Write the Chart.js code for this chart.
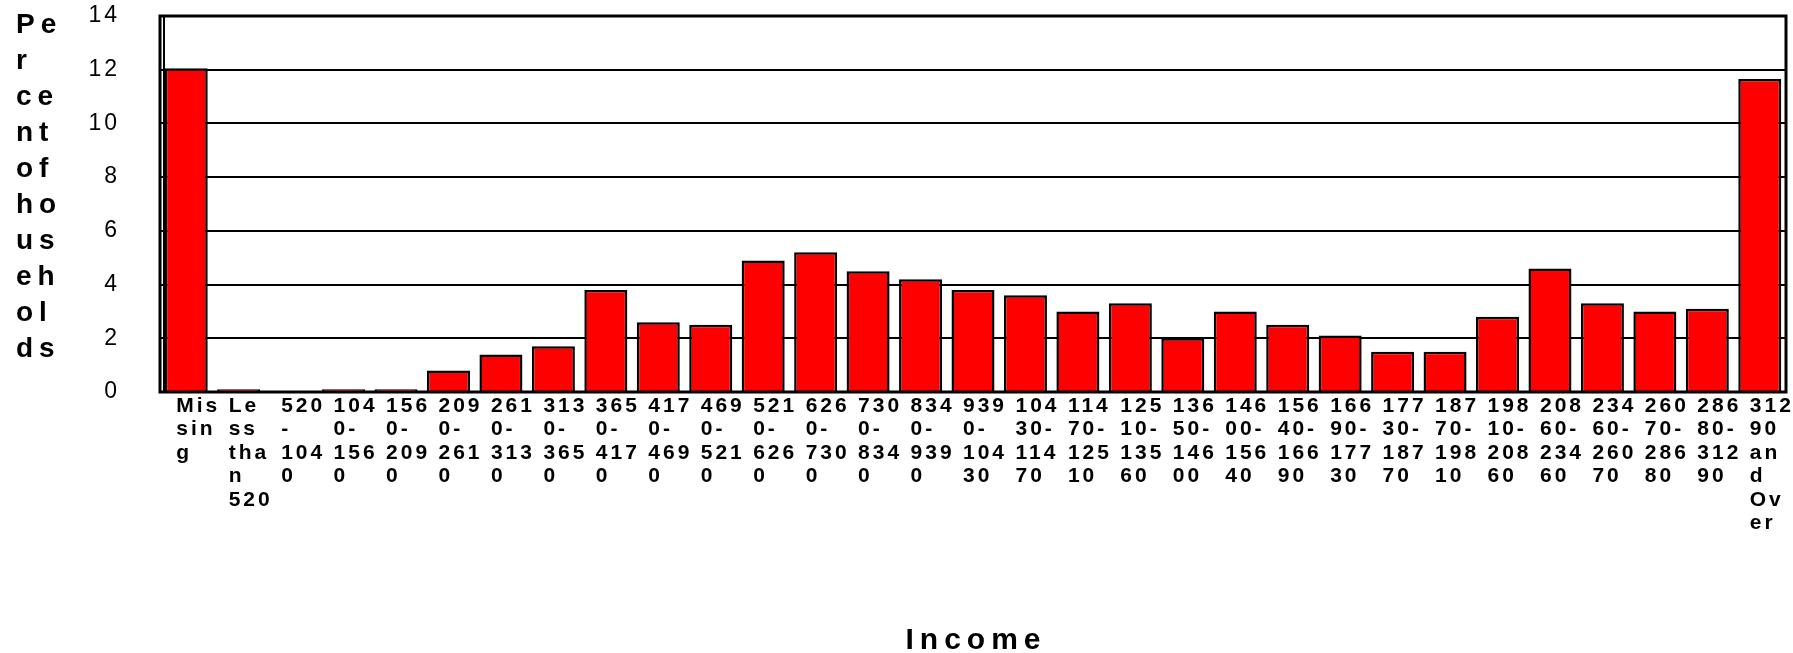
<!DOCTYPE html>
<html>
<head>
<meta charset="utf-8">
<script src="https://cdn.jsdelivr.net/npm/chart.js@4.4.0/dist/chart.umd.min.js"></script>
<style>
  html, body { margin: 0; padding: 0; background: #fff; }
</style>
</head>
<body>
<canvas id="chart" width="1793" height="653"></canvas>
<script>
// income bands, wrapped the same way the original chart wraps them
const categories = [
  ["Mis", "sin", "g"],
  ["Le", "ss", "tha", "n", "520"],
  ["520", "-", "104", "0"],
  ["104", "0-", "156", "0"],
  ["156", "0-", "209", "0"],
  ["209", "0-", "261", "0"],
  ["261", "0-", "313", "0"],
  ["313", "0-", "365", "0"],
  ["365", "0-", "417", "0"],
  ["417", "0-", "469", "0"],
  ["469", "0-", "521", "0"],
  ["521", "0-", "626", "0"],
  ["626", "0-", "730", "0"],
  ["730", "0-", "834", "0"],
  ["834", "0-", "939", "0"],
  ["939", "0-", "104", "30"],
  ["104", "30-", "114", "70"],
  ["114", "70-", "125", "10"],
  ["125", "10-", "135", "60"],
  ["136", "50-", "146", "00"],
  ["146", "00-", "156", "40"],
  ["156", "40-", "166", "90"],
  ["166", "90-", "177", "30"],
  ["177", "30-", "187", "70"],
  ["187", "70-", "198", "10"],
  ["198", "10-", "208", "60"],
  ["208", "60-", "234", "60"],
  ["234", "60-", "260", "70"],
  ["260", "70-", "286", "80"],
  ["286", "80-", "312", "90"],
  ["312", "90", "an", "d", "Ov", "er"]
];

// percent of households in each band
const percents = [
  12.05, 0.1, 0, 0.1, 0.1, 0.8, 1.4, 1.7, 3.8, 2.6, 2.5,
  4.9, 5.2, 4.5, 4.2, 3.8, 3.6, 3.0, 3.3, 2.0, 3.0,
  2.5, 2.1, 1.5, 1.5, 2.8, 4.6, 3.3, 3.0, 3.1, 11.65
];

const yTicks = [0, 2, 4, 6, 8, 10, 12, 14];
const yTitleLines = ["Pe", "r", "ce", "nt", "of", "ho", "us", "eh", "ol", "ds"];
const xTitle = "Income";

const FONT = "'Liberation Sans', Arial, sans-serif";

// box around the plot + the two axis titles (spaced out like the original)
const framePlugin = {
  id: 'frame',
  beforeDraw(chart) {
    chart.ctx.letterSpacing = '3px';
  },
  afterDraw(chart) {
    const ctx = chart.ctx;
    const a = chart.chartArea;
    ctx.save();
    ctx.strokeStyle = '#000';
    ctx.lineWidth = 3;
    ctx.strokeRect(a.left, a.top, a.right - a.left, a.bottom - a.top);
    ctx.lineWidth = 2;
    ctx.beginPath();
    ctx.moveTo(a.left + 4, a.top);
    ctx.lineTo(a.left + 4, a.bottom);
    ctx.stroke();

    ctx.fillStyle = '#000';
    ctx.textBaseline = 'middle';
    ctx.textAlign = 'left';
    ctx.letterSpacing = '6px';
    ctx.font = 'bold 28px ' + FONT;
    yTitleLines.forEach((line, i) => {
      ctx.fillText(line, 16, 25 + i * 36);
    });

    ctx.textAlign = 'center';
    ctx.font = 'bold 30px ' + FONT;
    ctx.fillText(xTitle, (a.left + a.right) / 2 + 3, 641);
    ctx.restore();
  }
};

const ctx = document.getElementById('chart').getContext('2d');

new Chart(ctx, {
  type: 'bar',
  data: {
    labels: categories,
    datasets: [{
      data: percents,
      backgroundColor: '#ff0000',
      borderColor: '#000000',
      borderWidth: 2.5,
      barPercentage: 0.82,
      categoryPercentage: 1.0
    }]
  },
  options: {
    responsive: false,
    animation: false,
    layout: {
      padding: { top: 16, right: 7, left: 0, bottom: 0 }
    },
    plugins: {
      legend: { display: false },
      tooltip: { enabled: false }
    },
    scales: {
      x: {
        grid: { display: false },
        border: { display: false },
        ticks: {
          autoSkip: false,
          maxRotation: 0,
          minRotation: 0,
          padding: -6,
          align: 'start',
          labelOffset: -10,
          color: '#000',
          font: { family: FONT, size: 21, weight: 'bold', lineHeight: 1.12 }
        },
        afterFit(scale) {
          scale.height = 261;
          scale.paddingLeft = 0;
          scale.paddingRight = 0;
        }
      },
      y: {
        min: 0,
        max: 14,
        grid: {
          color: '#000',
          lineWidth: 2,
          drawTicks: false
        },
        border: { display: false },
        ticks: {
          stepSize: 2,
          padding: 40,
          color: '#000',
          font: { family: FONT, size: 23 },
          callback: function(value) {
            return yTicks.includes(value) ? String(value) : '';
          }
        },
        afterFit(scale) {
          scale.width = 160;
          scale.paddingTop = 0;
          scale.paddingBottom = 0;
        }
      }
    }
  },
  plugins: [framePlugin]
});
</script>
</body>
</html>
